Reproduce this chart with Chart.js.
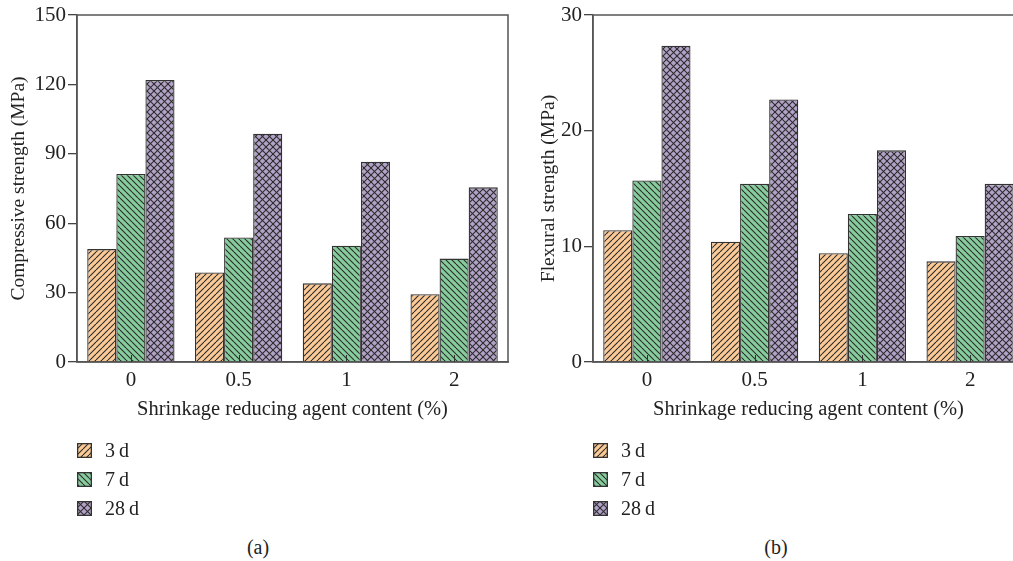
<!DOCTYPE html>
<html>
<head>
<meta charset="utf-8">
<script src="https://cdn.jsdelivr.net/npm/chart.js@4.4.0/dist/chart.umd.min.js"></script>
<style>
  html, body { margin: 0; padding: 0; background: #fff; overflow: hidden; }
  #page { position: relative; width: 1013px; height: 561px; overflow: hidden; font-family: "Liberation Serif", "DejaVu Serif", serif; color: #222; }
  canvas.chart { position: absolute; top: 0; }
  .legend { position: absolute; top: 436px; }
  .row { display: flex; align-items: center; height: 29px; font-size: 20px; }
  .row canvas { width: 15px; height: 15px; margin-right: 13px; }
  .cap { position: absolute; top: 536px; font-size: 20px; transform: translateX(-50%); }
</style>
</head>
<body>
<div id="page">
  <canvas id="chartA" class="chart" width="516" height="430" style="left:0px"></canvas>
  <canvas id="chartB" class="chart" width="516" height="430" style="left:516px"></canvas>
  <div class="legend" style="left:77px" id="legA"></div>
  <div class="legend" style="left:593px" id="legB"></div>
  <div class="cap" style="left:258px">(a)</div>
  <div class="cap" style="left:776px">(b)</div>
</div>
<script>
// data
const contents = ['0', '0.5', '1', '2'];
const ages = ['3\u2009d', '7\u2009d', '28\u2009d'];

const comp3d = [48.8, 38.7, 34, 29.3];
const comp7d = [81.3, 53.8, 50.3, 44.7];
const comp28d = [121.9, 98.7, 86.6, 75.5];

const flex3d = [11.4, 10.4, 9.4, 8.7];
const flex7d = [15.7, 15.4, 12.8, 10.9];
const flex28d = [27.35, 22.7, 18.3, 15.4];

const compTicks = [0, 30, 60, 90, 120, 150];
const flexTicks = [0, 10, 20, 30];

const fillColors = ['#fcca96', '#86cc9d', '#b3a2c8'];
const FONT = 'Liberation Serif';

function makePattern(kind, bg, size) {
    const c = document.createElement('canvas');
    c.width = size; c.height = size;
    const g = c.getContext('2d');
    g.fillStyle = bg;
    g.fillRect(0, 0, size, size);
    g.strokeStyle = '#2b2b2b';
    g.lineWidth = 1.1;
    function fwd() {
        for (let k = -1; k <= 1; k++) {
            g.beginPath();
            g.moveTo(k * size, size);
            g.lineTo(k * size + size, 0);
            g.stroke();
        }
    }
    function back() {
        for (let k = -1; k <= 1; k++) {
            g.beginPath();
            g.moveTo(k * size, 0);
            g.lineTo(k * size + size, size);
            g.stroke();
        }
    }
    if (kind === 'fwd') fwd();
    if (kind === 'back') back();
    if (kind === 'cross') { fwd(); back(); }
    return g.createPattern(c, 'repeat');
}

const patterns = [
    makePattern('fwd', fillColors[0], 6),
    makePattern('back', fillColors[1], 6),
    makePattern('cross', fillColors[2], 7)
];

// box around the plot area and small inward ticks on the x axis
const frame = {
    id: 'frame',
    afterDraw(chart) {
        const ctx = chart.ctx;
        const a = chart.chartArea;
        ctx.save();
        ctx.strokeStyle = '#555';
        ctx.lineWidth = 1.5;
        ctx.strokeRect(a.left, a.top, a.right - a.left, a.bottom - a.top);
        const xs = chart.scales.x;
        ctx.strokeStyle = '#333';
        ctx.lineWidth = 1;
        for (let i = 0; i < contents.length; i++) {
            const px = Math.round(xs.getPixelForValue(i)) + 0.5;
            ctx.beginPath();
            ctx.moveTo(px, a.bottom);
            ctx.lineTo(px, a.bottom - 7);
            ctx.stroke();
        }
        ctx.restore();
    }
};

function buildChart(id, series, tickList, yTitle, titlePad) {
    const ds = series.map((vals, i) => ({
        label: ages[i],
        data: vals,
        backgroundColor: patterns[i],
        borderColor: '#333',
        borderWidth: 1.3,
        categoryPercentage: 0.81,
        barPercentage: 1
    }));
    return new Chart(document.getElementById(id), {
        type: 'bar',
        data: { labels: contents, datasets: ds },
        options: {
            responsive: false,
            animation: false,
            layout: { padding: { top: 15, right: 8, left: 0, bottom: 0 } },
            plugins: { legend: { display: false }, tooltip: { enabled: false } },
            scales: {
                x: {
                    grid: { display: false, drawTicks: false },
                    border: { display: true, color: '#555', width: 1.5 },
                    ticks: { color: '#222', padding: 6, font: { family: FONT, size: 21 } },
                    title: {
                        display: true,
                        text: 'Shrinkage reducing agent content (%)',
                        color: '#222',
                        font: { family: FONT, size: 20.5 },
                        padding: { top: 0, bottom: 8 }
                    },
                    afterFit(scale) { scale.height = 68; }
                },
                y: {
                    min: 0,
                    max: tickList[tickList.length - 1],
                    afterBuildTicks(scale) { scale.ticks = tickList.map(v => ({ value: v })); },
                    grid: { drawOnChartArea: false, drawTicks: true, tickLength: 9, color: '#444', lineWidth: 1.3 },
                    border: { display: true, color: '#555', width: 1.5 },
                    ticks: { color: '#222', padding: 2, font: { family: FONT, size: 21 } },
                    title: {
                        display: true,
                        text: yTitle,
                        color: '#222',
                        font: { family: FONT, size: 19.5 },
                        padding: { top: titlePad, bottom: 0 }
                    },
                    afterFit(scale) { scale.width = 77; }
                }
            }
        },
        plugins: [frame]
    });
}

buildChart('chartA', [comp3d, comp7d, comp28d], compTicks, 'Compressive strength (MPa)', 7);
buildChart('chartB', [flex3d, flex7d, flex28d], flexTicks, 'Flexural strength (MPa)', 21);

function buildLegend(id) {
    const box = document.getElementById(id);
    ages.forEach((name, i) => {
        const row = document.createElement('div');
        row.className = 'row';
        const sw = document.createElement('canvas');
        sw.width = 15; sw.height = 15;
        const g = sw.getContext('2d');
        g.fillStyle = patterns[i];
        g.fillRect(0, 0, 15, 15);
        g.strokeStyle = '#333';
        g.lineWidth = 1.3;
        g.strokeRect(0.65, 0.65, 13.7, 13.7);
        row.appendChild(sw);
        const t = document.createElement('span');
        t.textContent = name;
        row.appendChild(t);
        box.appendChild(row);
    });
}
buildLegend('legA');
buildLegend('legB');
</script>
</body>
</html>
